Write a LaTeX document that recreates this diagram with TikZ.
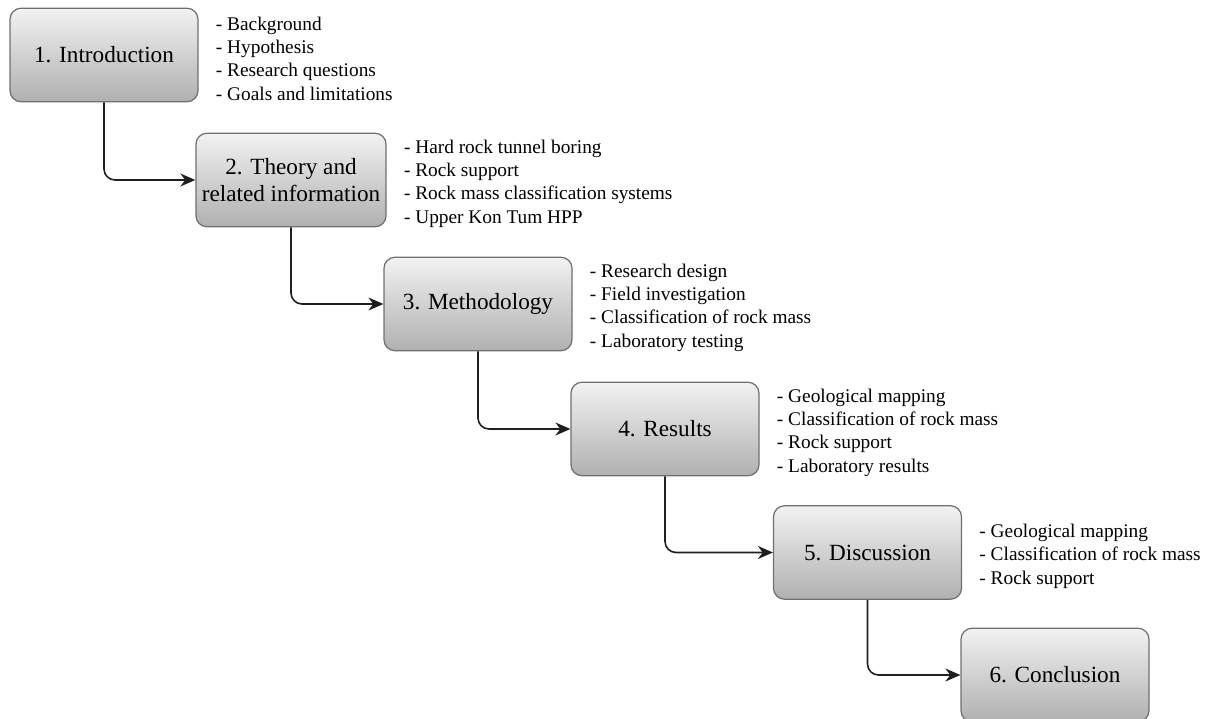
\documentclass[tikz,border=0pt]{standalone}
\usepackage{fontspec}
\setmainfont{Liberation Serif}
\usetikzlibrary{arrows.meta, positioning}
\definecolor{boxtop}{rgb}{0.95, 0.95, 0.95}
\definecolor{boxbottom}{rgb}{0.69, 0.69, 0.69}
\definecolor{boxline}{rgb}{0.44, 0.44, 0.44}
\definecolor{flowline}{rgb}{0.12, 0.12, 0.12}

\begin{document}
\begin{tikzpicture}[>={Stealth[length=3mm, width=2.6mm]},
        stage/.style={draw=boxline, line width=0.7pt, rounded corners=0.22cm,
            top color=boxtop, bottom color=boxbottom,
            minimum width=3.76cm, minimum height=1.87cm,
            align=center, font=\fontsize{13.2}{15.6}\selectfont},
        notes/.style={align=left, inner sep=0pt, yshift=-0.07cm,
            font=\fontsize{11}{13.3}\selectfont},
        flow/.style={->, draw=flowline, line width=0.9pt, rounded corners=0.22cm}]
        \useasboundingbox (0, 0) rectangle (24.36, -14.38);

        % stages
        \node [stage] (intro) at (2.08, -1.10) {1. Introduction};
        \node [stage] (theory) at (5.82, -3.60) {2. Theory and\\related information};
        \node [stage] (method) at (9.56, -6.08) {3. Methodology};
        \node [stage] (results) at (13.30, -8.58) {4. Results};
        \node [stage] (discuss) at (17.35, -11.05) {5. Discussion};
        \node [stage] (concl) at (21.10, -13.50) {6. Conclusion};

        % contents of each chapter
        \node [notes, right=0.34cm of intro] (introtxt) {- Background\\- Hypothesis\\- Research questions\\- Goals and limitations};
        \node [notes, right=0.34cm of theory] (theorytxt) {- Hard rock tunnel boring\\- Rock support\\- Rock mass classification systems\\- Upper Kon Tum HPP};
        \node [notes, right=0.34cm of method] (methodtxt) {- Research design\\- Field investigation\\- Classification of rock mass\\- Laboratory testing};
        \node [notes, right=0.34cm of results] (resultstxt) {- Geological mapping\\- Classification of rock mass\\- Rock support\\- Laboratory results};
        \node [notes, right=0.34cm of discuss] (discusstxt) {- Geological mapping\\- Classification of rock mass\\- Rock support};

        % flow
        \draw [flow] (intro.south) |- (theory.west);
        \draw [flow] (theory.south) |- (method.west);
        \draw [flow] (method.south) |- (results.west);
        \draw [flow] (results.south) |- (discuss.west);
        \draw [flow] (discuss.south) |- (concl.west);
    \end{tikzpicture}
\end{document}
